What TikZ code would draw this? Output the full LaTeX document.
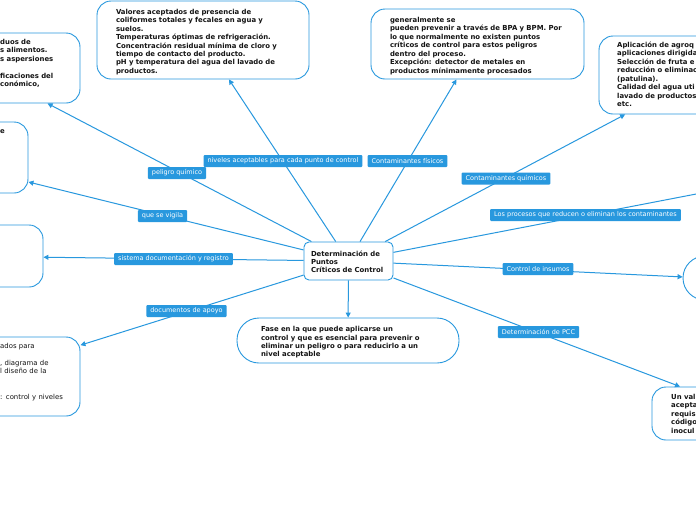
\documentclass[tikz,border=0pt]{standalone}
\usepackage{fontspec}
\setmainfont{DejaVu Sans}
\usetikzlibrary{arrows.meta}
\definecolor{mblue}{RGB}{40,152,222}
\definecolor{ink}{RGB}{20,20,20}
\newcommand\tup[1]{\rule{0pt}{#1}}
\tikzset{
 box/.style={draw=mblue, line width=0.9pt, rounded corners=14pt, fill=white, inner sep=0pt, align=left, font=\fontsize{6.9}{8.45}\selectfont\bfseries, text=ink},
 txt/.style={inner sep=0pt, align=left, anchor=base west, text width=120pt, font=\fontsize{6.9}{8.45}\selectfont\bfseries, text=ink},
 lab/.style={fill=mblue, text=white, rounded corners=1pt, inner xsep=4pt, inner ysep=0pt, minimum height=12pt, font=\fontsize{6.5}{7}\selectfont},
 con/.style={draw=mblue, line width=1pt, -{Triangle[length=5pt,width=5pt]}},
}
\begin{document}
\begin{tikzpicture}[x=1pt,y=-1pt]
\useasboundingbox (0,0) rectangle (696,520);
\clip (0,0) rectangle (696,520);
\fill[white] (0,0) rectangle (696,520);

% central node
\node[box, rounded corners=5pt, minimum width=89pt, minimum height=38pt, text width=75pt] (c) at (348.5,261)
 {\tup{7pt}Determinación de\\Puntos\\Críticos de Control};

% boxes
\node[box, minimum width=200pt, minimum height=70pt] (n1) at (-20,68) {};
\node[txt] (t1) at (0,44.5) {duos de\\s alimentos.\\s aspersiones\\\mbox{}\\ficaciones del\\conómico,};

\node[box, minimum width=212pt, minimum height=78pt, text width=174pt] (vals) at (203,40)
 {\tup{9pt}Valores aceptados de presencia de\\coliformes totales y fecales en agua y\\suelos.\\Temperaturas óptimas de refrigeración.\\Concentración residual mínima de cloro y\\tiempo de contacto del producto.\\pH y temperatura del agua del lavado de\\productos.};

\node[box, minimum width=213pt, minimum height=70pt, text width=175pt] (fis) at (477.5,44)
 {\tup{9pt}generalmente se\\pueden prevenir a través de BPA y BPM. Por\\lo que normalmente no existen puntos\\críticos de control para estos peligros\\dentro del proceso.\\Excepción: detector de metales en\\productos mínimamente procesados};

\node[box, minimum width=201pt, minimum height=78pt] (qui) at (699.5,75) {};
\node[txt] (t4) at (617,47.5) {Aplicación de agroq\\aplicaciones dirigida\\Selección de fruta e\\reducción o eliminac\\(patulina).\\Calidad del agua uti\\lavado de productos\\etc.};

\node[box, minimum width=198pt, minimum height=71pt] (vig) at (-71,157.5) {};
\node[txt] (t5) at (0,133.5) {e};

\node[box, minimum width=198pt, minimum height=62pt] (doc) at (-56,256) {};

\node[box, minimum width=200pt, minimum height=79pt] (apo) at (-20,376.5) {};
\node[txt, font=\fontsize{6.9}{8.45}\selectfont] (t7) at (0,348.5) {ados para\\\mbox{}\\, diagrama de\\l diseño de la\\\mbox{}\\\mbox{}\\: control y niveles};

\node[box, rounded corners=22pt, minimum width=222pt, minimum height=45pt, text width=174pt] (fase) at (348,340.5)
 {\tup{9pt}Fase en la que puede aplicarse un\\control y que es esencial para prevenir o\\eliminar un peligro o para reducirlo a un\\nivel aceptable};

\node[draw=mblue, line width=0.9pt, circle, minimum size=44pt, fill=white, inner sep=0pt] (ins) at (705,278) {};

\node[box, minimum width=198pt, minimum height=53pt] (pcc) at (751,413.5) {};
\node[txt] (t10) at (671,399.5) {Un val\\acepta\\requis\\código\\inocul};

\coordinate (proc) at (800,174);

% connectors
\draw[con] (c) -- (vals);
\draw[con] (c) -- (fis);
\draw[con] (c) -- (qui);
\draw[con] (c) -- (proc);
\draw[con] (c) -- (ins);
\draw[con] (c) -- (pcc);
\draw[con] (c) -- (fase);
\draw[con] (c) -- (apo);
\draw[con] (c) -- (doc);
\draw[con] (c) -- (vig);
\draw[con] (c) -- (n1);

% labels
\node[lab] (l1) at (283,161) {niveles aceptables para cada punto de control};
\node[lab] (l2) at (407.5,161) {Contaminantes físicos};
\node[lab] (l3) at (177,173) {peligro químico};
\node[lab] (l4) at (506,178.5) {Contaminantes químicos};
\node[lab] (l5) at (162.5,216) {que se vigila};
\node[lab] (l6) at (585.5,215) {Los procesos que reducen o eliminan los contaminantes};
\node[lab] (l7) at (173.5,259) {sistema documentación y registro};
\node[lab] (l8) at (538,269) {Control de insumos};
\node[lab] (l9) at (186.5,311) {documentos de apoyo};
\node[lab] (l10) at (538.5,332) {Determinación de PCC};
\end{tikzpicture}
\end{document}
